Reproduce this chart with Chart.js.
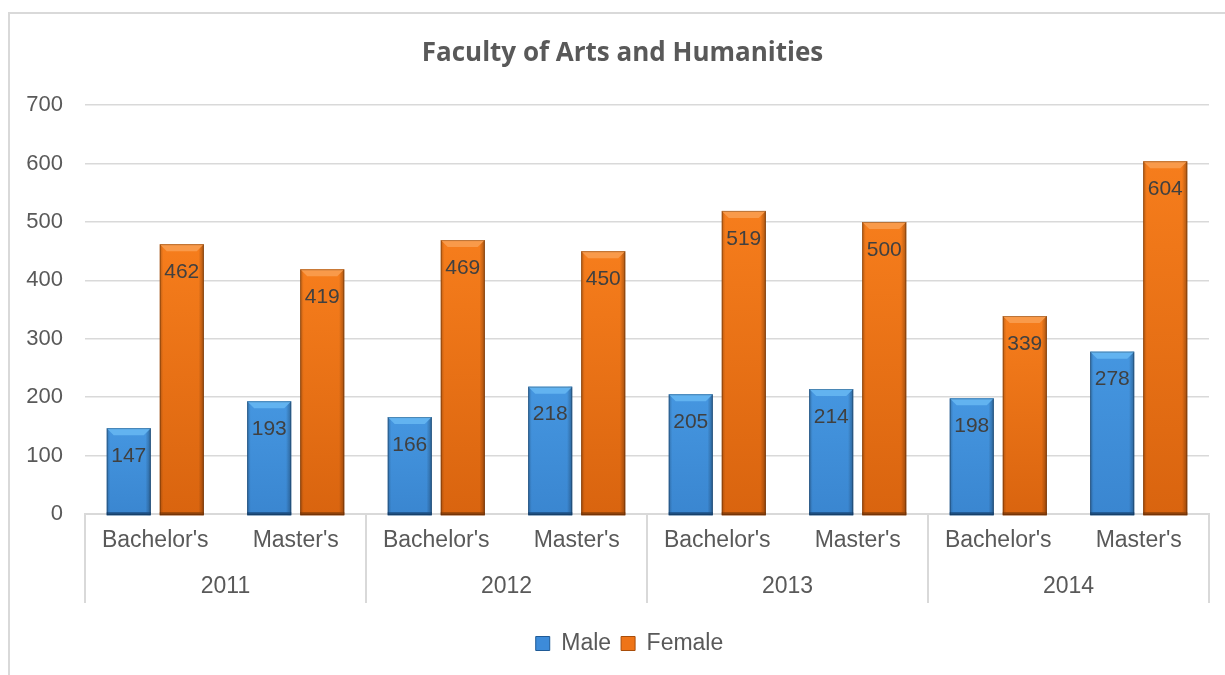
<!DOCTYPE html>
<html lang="en">
<head>
    <meta charset="utf-8">
    <title>Faculty of Arts and Humanities</title>
    <script src="https://cdn.jsdelivr.net/npm/chart.js"></script>
    <style>
        html, body { margin: 0; padding: 0; background: #fff; }
        #wrap { position: relative; width: 1225px; height: 675px; overflow: hidden; }
        #frame { position: absolute; left: 8px; top: 12px; width: 1240px; height: 700px;
                 border-left: 2px solid #d9d9d9; border-top: 2px solid #d9d9d9; pointer-events: none; }
        canvas { position: absolute; left: 0; top: 0; }
    </style>
</head>
<body>
<div id="wrap">
    <canvas id="facultyChart" width="1225" height="675"></canvas>
    <div id="frame"></div>
</div>

<script>
    // data
    const years = ['2011', '2012', '2013', '2014'];
    const degrees = ["Bachelor's", "Master's"];
    const categories = [
        "Bachelor's", "Master's", "Bachelor's", "Master's",
        "Bachelor's", "Master's", "Bachelor's", "Master's"
    ];
    const maleValues = [147, 193, 166, 218, 205, 214, 198, 278];
    const femaleValues = [462, 419, 469, 450, 519, 500, 339, 604];
    const yTicks = [0, 100, 200, 300, 400, 500, 600, 700];

    const textGrey = '#595959';
    const lineGrey = '#d9d9d9';
    const labelFont = '"Liberation Sans", Arial, sans-serif';

    // shading for each series
    const shades = [
        { bevel: '#62b3f0', top: '#4596e0', bottom: '#3a86d0', base: '#1d4f82' },
        { bevel: '#f99a4a', top: '#f67d1c', bottom: '#d9640f', base: '#8f4109' }
    ];

    // nudge title and legend sideways, like in the original
    const nudgeBoxes = {
        id: 'nudgeBoxes',
        afterLayout(chart) {
            if (chart.titleBlock) { chart.titleBlock.left += 13; chart.titleBlock.right += 13; }
            if (chart.legend) { chart.legend.left += 20; chart.legend.right += 20; }
        }
    };

    // repaint the bars with a bevel look and put the value labels on them
    const bevelBars = {
        id: 'bevelBars',
        afterDatasetsDraw(chart) {
            const ctx = chart.ctx;
            chart.data.datasets.forEach((ds, di) => {
                const meta = chart.getDatasetMeta(di);
                const s = shades[di];
                meta.data.forEach((bar, i) => {
                    const w = bar.width;
                    const l = bar.x - w / 2;
                    const t = bar.y;
                    const h = bar.base - bar.y + 2;
                    ctx.save();
                    let g = ctx.createLinearGradient(0, t, 0, t + h);
                    g.addColorStop(0, s.top);
                    g.addColorStop(1, s.bottom);
                    ctx.fillStyle = g;
                    ctx.fillRect(l, t, w, h);
                    // darker side edges
                    g = ctx.createLinearGradient(l, 0, l + w, 0);
                    g.addColorStop(0, 'rgba(0,0,0,0.22)');
                    g.addColorStop(0.08, 'rgba(0,0,0,0)');
                    g.addColorStop(0.88, 'rgba(0,0,0,0)');
                    g.addColorStop(1, 'rgba(0,0,0,0.3)');
                    ctx.fillStyle = g;
                    ctx.fillRect(l, t, w, h);
                    // top bevel
                    const b = 7;
                    ctx.fillStyle = s.bevel;
                    ctx.beginPath();
                    ctx.moveTo(l, t);
                    ctx.lineTo(l + w, t);
                    ctx.lineTo(l + w - b, t + b);
                    ctx.lineTo(l + b, t + b);
                    ctx.closePath();
                    ctx.fill();
                    // base strip
                    ctx.fillStyle = s.base;
                    ctx.fillRect(l, t + h - 3, w, 3);
                    ctx.strokeStyle = 'rgba(0,0,0,0.25)';
                    ctx.lineWidth = 1;
                    ctx.strokeRect(l + 0.5, t + 0.5, w - 1, h - 1);
                    ctx.restore();

                    ctx.save();
                    ctx.fillStyle = '#404040';
                    ctx.font = '21px ' + labelFont;
                    ctx.textAlign = 'center';
                    ctx.textBaseline = 'middle';
                    ctx.fillText(ds.data[i], bar.x, t + 28);
                    ctx.restore();
                });
            });
        }
    };

    // second level of the category axis: year groups with separators
    const yearAxis = {
        id: 'yearAxis',
        afterDraw(chart) {
            const ctx = chart.ctx;
            const x = chart.scales.x;
            const area = chart.chartArea;
            const groupW = (x.right - x.left) / years.length;
            ctx.save();
            ctx.strokeStyle = lineGrey;
            ctx.lineWidth = 2;
            for (let i = 0; i <= years.length; i++) {
                const px = Math.round(x.left + i * groupW);
                ctx.beginPath();
                ctx.moveTo(px, area.bottom);
                ctx.lineTo(px, area.bottom + 89);
                ctx.stroke();
            }
            ctx.fillStyle = textGrey;
            ctx.font = '23px ' + labelFont;
            ctx.textAlign = 'center';
            ctx.textBaseline = 'middle';
            years.forEach((yr, i) => {
                const cx = (x.getPixelForValue(i * degrees.length) + x.getPixelForValue(i * degrees.length + 1)) / 2;
                ctx.fillText(yr, cx, area.bottom + 73);
            });
            ctx.restore();
        }
    };

    const chart = new Chart(document.getElementById('facultyChart'), {
        type: 'bar',
        data: {
            labels: categories,
            datasets: [
                { label: 'Male', data: maleValues, backgroundColor: '#3d8bd9', borderColor: '#1f5a96', borderWidth: 1 },
                { label: 'Female', data: femaleValues, backgroundColor: '#ef7417', borderColor: '#a84d0a', borderWidth: 1 }
            ]
        },
        options: {
            responsive: false,
            animation: false,
            devicePixelRatio: 1,
            categoryPercentage: 0.755,
            barPercentage: 0.83,
            layout: { padding: { left: 10, right: 16, top: 12, bottom: 10 } },
            plugins: {
                title: {
                    display: true,
                    text: 'Faculty of Arts and Humanities',
                    color: textGrey,
                    font: { family: '"Open Sans", sans-serif', size: 26, weight: 'bold' },
                    padding: { top: 26, bottom: 36 }
                },
                legend: {
                    position: 'bottom',
                    labels: {
                        color: textGrey,
                        font: { family: labelFont, size: 23 },
                        boxWidth: 14,
                        boxHeight: 14,
                        padding: 10
                    }
                },
                tooltip: { enabled: false }
            },
            scales: {
                x: {
                    afterFit: (scale) => { scale.height = 108; },
                    grid: { display: false, drawTicks: false },
                    border: { display: true, color: lineGrey, width: 2 },
                    ticks: {
                        color: textGrey,
                        padding: 13,
                        maxRotation: 0,
                        autoSkip: false,
                        font: { family: labelFont, size: 23 }
                    }
                },
                y: {
                    min: 0,
                    max: 700,
                    afterFit: (scale) => { scale.width = 75; },
                    afterBuildTicks: (scale) => { scale.ticks = yTicks.map(v => ({ value: v })); },
                    grid: { color: lineGrey, lineWidth: 1.5, drawTicks: false },
                    border: { display: false },
                    ticks: {
                        color: textGrey,
                        padding: 22,
                        font: { family: labelFont, size: 22 }
                    }
                }
            }
        },
        plugins: [nudgeBoxes, bevelBars, yearAxis]
    });
</script>
</body>
</html>
